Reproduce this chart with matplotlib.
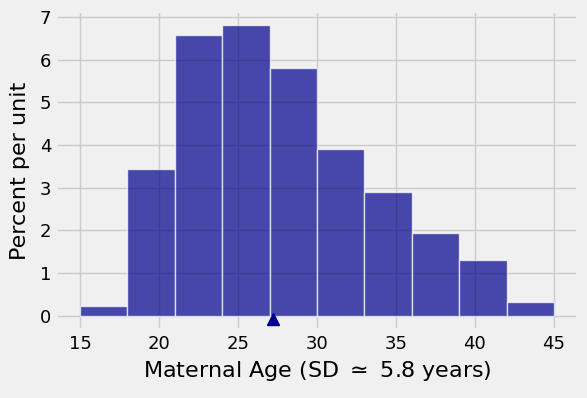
import numpy as np
import matplotlib
matplotlib.use("Agg")
import matplotlib.pyplot as plt

plt.style.use("fivethirtyeight")

# bins (anos) e alturas (percent per unit)
bin_edges = [15, 18, 21, 24, 27, 30, 33, 36, 39, 42, 45]
heights = [0.22, 3.43, 6.58, 6.82, 5.80, 3.90, 2.90, 1.95, 1.32, 0.335]
mean_age = 27.23
x_ticks = [15, 20, 25, 30, 35, 40, 45]

fig = plt.figure(figsize=(5.87, 3.98), dpi=100)
ax = fig.add_axes([0.096, 0.17, 0.888, 0.802])

left = np.array(bin_edges[:-1])
widths = np.diff(bin_edges)
ax.bar(left, heights, width=widths, align="edge", color="darkblue",
       alpha=0.7, edgecolor="w", linewidth=1, zorder=2)

ax.plot([mean_age], [-0.08], marker="^", color="darkblue", markersize=9,
        linestyle="none", clip_on=False, zorder=3)

ax.set_xticks(x_ticks)
ax.set_yticks(range(0, 8))
ax.tick_params(labelsize=13)
ax.set_xlabel("Maternal Age (SD $\\simeq$ 5.8 years)", fontsize=16)
ax.set_ylabel("Percent per unit", fontsize=16, labelpad=7)
ax.set_xlim(13.5, 46.5)
ax.set_ylim(-0.34, 7.14)

fig.savefig("out.png", dpi=100, facecolor=fig.get_facecolor())
